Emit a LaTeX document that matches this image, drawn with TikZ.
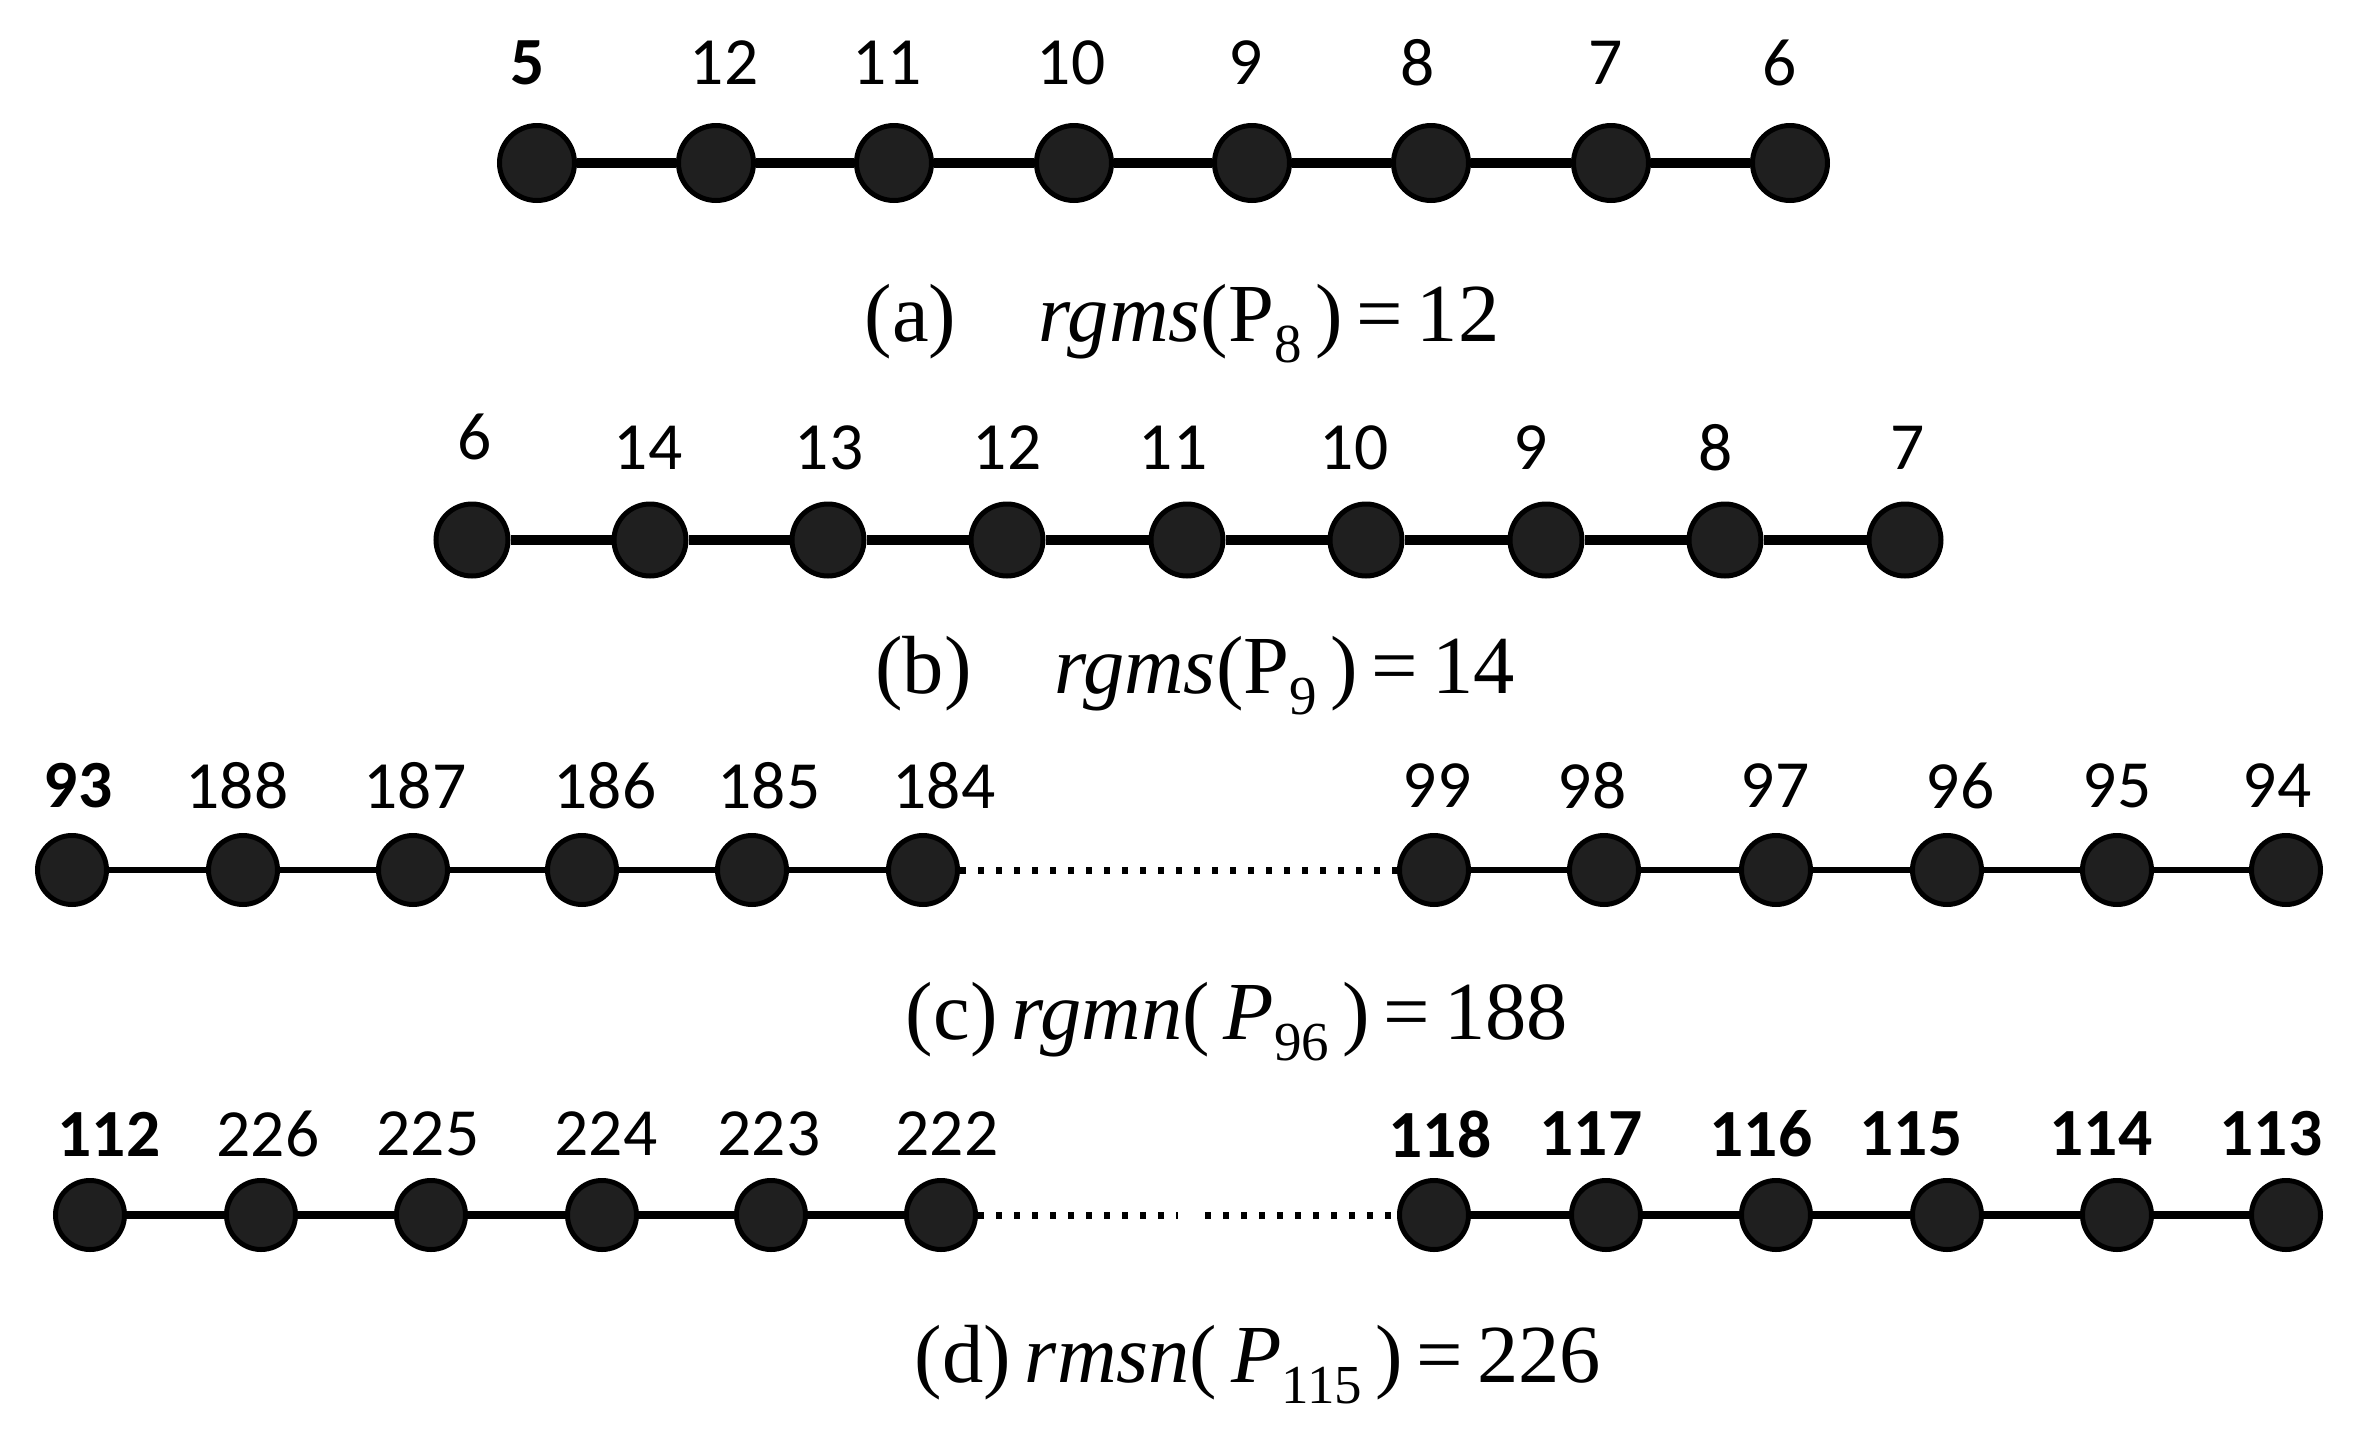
\documentclass[tikz,border=0pt]{standalone}
\usepackage{fontspec}
\setmainfont{Liberation Serif}
\newfontfamily\labfont{Carlito}
\newcommand{\lowsub}[1]{\raisebox{-0.55ex}{\fontsize{11}{11}\selectfont #1}}
\begin{document}
\begin{tikzpicture}[x=0.2pt,y=-0.2pt]
\tikzset{
  vtx/.style={circle, fill=black!88, draw=black, line width=1pt, inner sep=0pt},
  vA/.style={vtx, minimum size=15pt},
  vB/.style={vtx, minimum size=14.4pt},
  vC/.style={vtx, minimum size=13.8pt},
  lab/.style={font=\labfont\fontsize{13.5}{14}\selectfont, inner sep=0pt, anchor=center},
  capt/.style={font=\fontsize{16.5}{19}\selectfont, inner sep=0pt},
  edgeA/.style={line width=1.9pt},
  edgeC/.style={line width=1.2pt},
  edgeD/.style={line width=1.5pt},
  dotC/.style={line width=1.4pt, dash pattern=on 1.2pt off 2.4pt},
}
\useasboundingbox (0,0) rectangle (2365,1441);
% ---------- (a)
\foreach \x/\lx/\t [count=\i] in {537/528/\textbf{5},716/724/12,894/887/11,1074/1071/10,1252/1246/9,1431/1418/8,1611/1606/7,1790/1780/6}{
  \node[vA] (a\i) at (\x,163) {};
  \node[lab] (la\i) at (\lx,63) {\t};
}
\foreach \i [evaluate=\i as \j using int(\i+1)] in {1,...,7}
  \draw[edgeA] (a\i) -- (a\j);
\node[capt] (capa) at (1182,324) {(a)\quad\textit{rgms}(P\lowsub{8}\,)\,=\,12};
% ---------- (b)
\foreach \x/\lx/\ly/\t [count=\i] in {472/475/437/6,650/648/448/14,828/829/448/13,1007/1007/448/12,1187/1173/448/11,1366/1354/448/10,1546/1531/448/9,1725/1716/448/8,1905/1908/448/7}{
  \node[vB] (b\i) at (\x,540) {};
  \node[lab] (lb\i) at (\lx,\ly) {\t};
}
\foreach \i [evaluate=\i as \j using int(\i+1)] in {1,...,8}
  \draw[edgeA] (b\i) -- (b\j);
\node[capt] (capb) at (1195,676) {(b)\quad\textit{rgms}(P\lowsub{9}\,)\,=\,14};
% ---------- (c)
\foreach \x/\lx/\t [count=\i] in {72/78/\textbf{93},243/237/188,413/415/187,582/605/186,752/769/185,923/944/184,1434/1437/99,1604/1592/98,1776/1775/97,1947/1960/96,2117/2117/95,2286/2277/94}{
  \node[vC] (c\i) at (\x,870) {};
  \node[lab] (lc\i) at (\lx,786) {\t};
}
\foreach \i [evaluate=\i as \j using int(\i+1)] in {1,...,5,7,8,...,11}
  \draw[edgeC] (c\i) -- (c\j);
\draw[dotC] (c6) -- (c7);
\node[capt] (capc) at (1237,1022) {(c)\,\textit{rgmn}(\,\textit{P}\lowsub{96}\,)\,=\,188};
% ---------- (d)
\foreach \x/\lx/\t [count=\i] in {90/109/\textbf{112},261/268/226,431/428/225,602/606/224,771/769/223,941/947/222,1434/1440/\textbf{118},1606/1591/\textbf{117},1776/1761/\textbf{116},1947/1911/\textbf{115},2117/2101/\textbf{114},2286/2271/\textbf{113}}{
  \node[vC] (d\i) at (\x,1215) {};
  \node[lab] (ld\i) at (\lx,1134) {\t};
}
\foreach \i [evaluate=\i as \j using int(\i+1)] in {1,...,5,7,8,...,11}
  \draw[edgeD] (d\i) -- (d\j);
\coordinate (gapL) at (1178,1215);
\coordinate (gapR) at (1205,1215);
\draw[dotC] (d6) -- (gapL);
\draw[dotC] (gapR) -- (d7);
\node[capt] (capd) at (1258,1365) {(d)\,\textit{rmsn}(\,\textit{P}\lowsub{115}\,)\,=\,226};
\end{tikzpicture}
\end{document}
